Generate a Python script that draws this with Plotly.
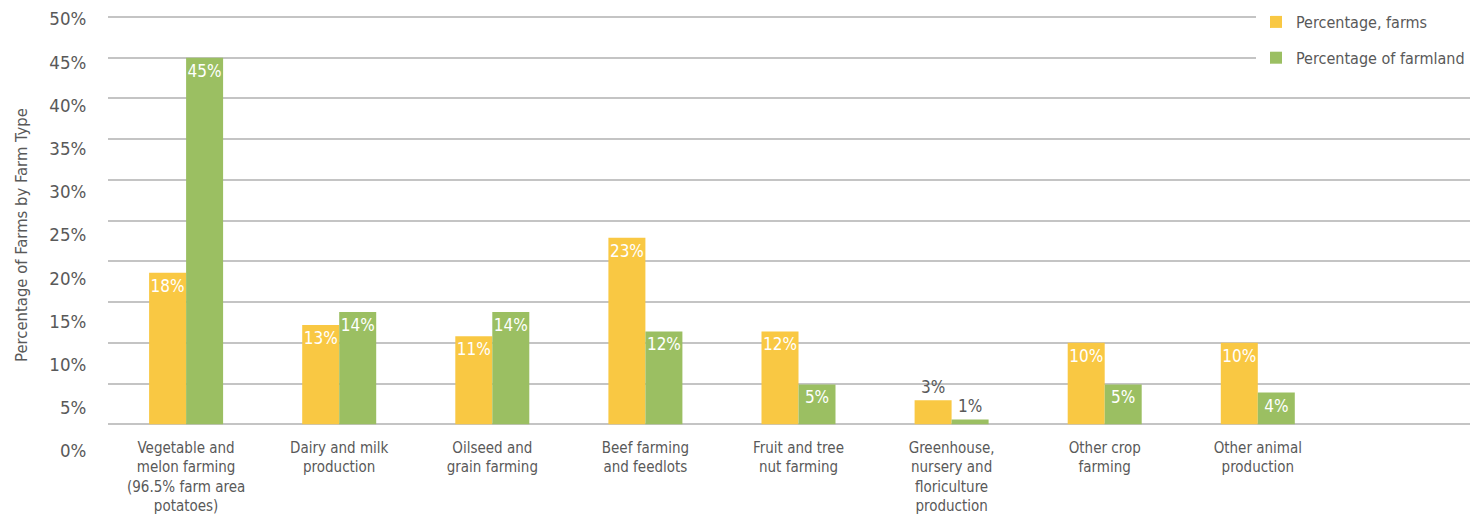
import plotly.graph_objects as go

categories = [
    "Vegetable and<br>melon farming<br>(96.5% farm area<br>potatoes)",
    "Dairy and milk<br>production",
    "Oilseed and<br>grain farming",
    "Beef farming<br>and feedlots",
    "Fruit and tree<br>nut farming",
    "Greenhouse,<br>nursery and<br>floriculture<br>production",
    "Other crop<br>farming",
    "Other animal<br>production",
]
pct_farms = [18.6, 12.2, 10.8, 22.9, 11.4, 2.95, 10.0, 10.0]
pct_farms_labels = ["18%", "13%", "11%", "23%", "12%", "3%", "10%", "10%"]
pct_farmland = [45.0, 13.8, 13.8, 11.4, 4.9, 0.6, 4.9, 3.9]
pct_farmland_labels = ["45%", "14%", "14%", "12%", "5%", "1%", "5%", "4%"]
tick_vals = [0, 5, 10, 15, 20, 25, 30, 35, 40, 45, 50]
tick_text = [f"{v}%" for v in tick_vals]

FONT = "DejaVu Sans Condensed, sans-serif"
YELLOW = "#F9C843"
GREEN = "#9BBF62"
GRAY = "#595959"

W, H = 1473, 522
left, right = 108, 1470
top, bottom = 0, 451
base_px = 424.3
top50_px = 17.0
ph = bottom - top

def pos_list(vals, thresh=3.5):
    return ["outside" if v < thresh else "inside" for v in vals]

bar_font = dict(family=FONT, size=17)

fig = go.Figure()
for name, vals, labels, color, grp in [
    ("Percentage, farms", pct_farms, pct_farms_labels, YELLOW, "a"),
    ("Percentage of farmland", pct_farmland, pct_farmland_labels, GREEN, "b"),
]:
    fig.add_trace(go.Bar(
        name=name, x=categories, y=vals,
        marker=dict(color=color, line=dict(width=0)),
        text=labels, textposition=pos_list(vals), textangle=0,
        insidetextanchor="end",
        insidetextfont=dict(color="white", **bar_font),
        outsidetextfont=dict(color=GRAY, **bar_font),
        textfont=bar_font,
        constraintext="none", cliponaxis=False,
        legendgroup=grp, hoverinfo="skip",
    ))
# helper trace so the label axis is drawn
fig.add_trace(go.Scatter(x=[categories[0]], y=[None], yaxis="y2",
                         showlegend=False, hoverinfo="skip", mode="markers"))

slope = 153.1
c0 = 186.1
x_range = [(left - c0) / slope, (right - c0) / slope]

px_per = (base_px - top50_px) / 50.0
ymin, ymax = -0.2, 50.2
y_bot_px = base_px - ymin * px_per
y_top_px = base_px - ymax * px_per

fig.update_layout(
    template="none",
    width=W, height=H,
    margin=dict(l=left, r=W - right, t=top, b=H - bottom, pad=0, autoexpand=False),
    paper_bgcolor="white", plot_bgcolor="rgba(0,0,0,0)",
    barmode="group", bargap=1 - 2 * 37 / slope, bargroupgap=0,
    font=dict(family=FONT, color=GRAY, size=15),
    showlegend=True,
    legend=dict(
        x=1, xanchor="right",
        y=1 - 5 / ph, yanchor="top",
        bgcolor="white", borderwidth=0,
        font=dict(family=FONT, size=16, color=GRAY),
        traceorder="grouped", tracegroupgap=12,
        itemclick=False,
    ),
    xaxis=dict(
        type="category", categoryorder="array", categoryarray=categories,
        range=x_range, showgrid=False, zeroline=False, showline=False,
        ticks="", tickfont=dict(family=FONT, size=15, color=GRAY),
        ticklabelstandoff=11, automargin=False,
    ),
    yaxis=dict(
        domain=[(bottom - y_bot_px) / ph, (bottom - y_top_px) / ph],
        range=[ymin, ymax], tickvals=tick_vals, showticklabels=False,
        showgrid=True, gridcolor="#C4C4C4", gridwidth=1.5,
        zeroline=False, showline=False, ticks="", automargin=False,
    ),
    yaxis2=dict(
        domain=[0, (bottom - 19) / ph], anchor="free", position=0,
        range=[0, 50], tickvals=tick_vals, ticktext=tick_text,
        showgrid=False, zeroline=False, showline=False,
        ticks="outside", ticklen=18, tickcolor="rgba(0,0,0,0)",
        tickfont=dict(family=FONT, size=18.5, color=GRAY),
        title=dict(text="Percentage of Farms by Farm Type",
                   font=dict(family=FONT, size=16.5, color=GRAY), standoff=16),
        automargin=False,
    ),
)

fig.write_html(
    "out.html",
    config={"displayModeBar": False},
    post_script="document.body.style.margin='0px';document.body.style.overflow='hidden';",
)
